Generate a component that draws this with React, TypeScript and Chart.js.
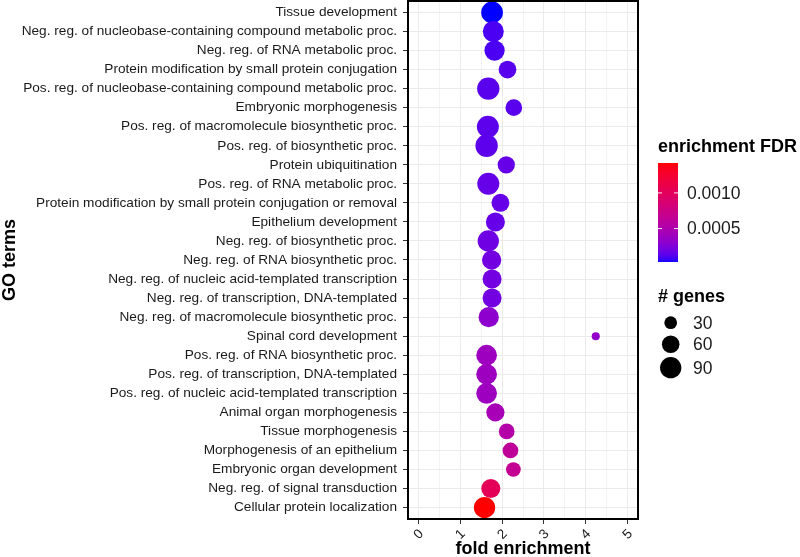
import React, { useEffect, useRef } from 'react';
import { Chart, registerables } from 'chart.js';

Chart.register(...registerables);

// ---------- data ----------
const goTerms: string[] = [
  'Tissue development',
  'Neg. reg. of nucleobase-containing compound metabolic proc.',
  'Neg. reg. of RNA metabolic proc.',
  'Protein modification by small protein conjugation',
  'Pos. reg. of nucleobase-containing compound metabolic proc.',
  'Embryonic morphogenesis',
  'Pos. reg. of macromolecule biosynthetic proc.',
  'Pos. reg. of biosynthetic proc.',
  'Protein ubiquitination',
  'Pos. reg. of RNA metabolic proc.',
  'Protein modification by small protein conjugation or removal',
  'Epithelium development',
  'Neg. reg. of biosynthetic proc.',
  'Neg. reg. of RNA biosynthetic proc.',
  'Neg. reg. of nucleic acid-templated transcription',
  'Neg. reg. of transcription, DNA-templated',
  'Neg. reg. of macromolecule biosynthetic proc.',
  'Spinal cord development',
  'Pos. reg. of RNA biosynthetic proc.',
  'Pos. reg. of transcription, DNA-templated',
  'Pos. reg. of nucleic acid-templated transcription',
  'Animal organ morphogenesis',
  'Tissue morphogenesis',
  'Morphogenesis of an epithelium',
  'Embryonic organ development',
  'Neg. reg. of signal transduction',
  'Cellular protein localization',
];

const foldEnrichment: number[] = [
  1.76, 1.79, 1.82, 2.13, 1.67, 2.28, 1.66, 1.63, 2.10, 1.67,
  1.96, 1.84, 1.67, 1.75, 1.76, 1.76, 1.68, 4.24, 1.63, 1.63,
  1.63, 1.84, 2.11, 2.20, 2.27, 1.73, 1.58,
];

const geneCounts: number[] = [
  94, 87, 81, 61, 99, 54, 96, 100, 58, 96,
  63, 71, 90, 73, 71, 71, 81, 11, 85, 85,
  85, 65, 47, 47, 41, 71, 90,
];

const enrichmentFdr: number[] = [
  0.00003, 0.0001, 0.0001, 0.00013, 0.00013, 0.00013, 0.00014, 0.00014, 0.00016, 0.00016,
  0.00016, 0.00016, 0.00019, 0.0002, 0.0002, 0.0002, 0.00031, 0.00034, 0.0004, 0.0004,
  0.0004, 0.00045, 0.00054, 0.00063, 0.00067, 0.00103, 0.00142,
];

const xTickValues: number[] = [0, 0.5, 1, 1.5, 2, 2.5, 3, 3.5, 4, 4.5, 5];
const colorbarTicks: number[] = [0.0005, 0.001];
const colorbarTickLabels: string[] = ['0.0005', '0.0010'];
const sizeLegendValues: number[] = [30, 60, 90];

// ---------- helpers ----------
const FONT = '"Liberation Sans", Arial, Helvetica, sans-serif';
const fdrMin = Math.min(...enrichmentFdr);
const fdrMax = Math.max(...enrichmentFdr);

function toLin(c: number) {
  c /= 255;
  return c <= 0.04045 ? c / 12.92 : Math.pow((c + 0.055) / 1.055, 2.4);
}
function fromLin(c: number) {
  const v = c <= 0.0031308 ? 12.92 * c : 1.055 * Math.pow(c, 1 / 2.4) - 0.055;
  return Math.round(Math.max(0, Math.min(1, v)) * 255);
}
const WX = 0.95047, WY = 1, WZ = 1.08883;
function rgbToLab(r: number, g: number, b: number) {
  const R = toLin(r), G = toLin(g), B = toLin(b);
  const X = (0.4124 * R + 0.3576 * G + 0.1805 * B) / WX;
  const Y = (0.2126 * R + 0.7152 * G + 0.0722 * B) / WY;
  const Z = (0.0193 * R + 0.1192 * G + 0.9505 * B) / WZ;
  const f = (t: number) => (t > 0.008856 ? Math.cbrt(t) : 7.787 * t + 16 / 116);
  const fx = f(X), fy = f(Y), fz = f(Z);
  return [116 * fy - 16, 500 * (fx - fy), 200 * (fy - fz)];
}
function labToRgb(L: number, a: number, b: number) {
  const fy = (L + 16) / 116;
  const fx = fy + a / 500;
  const fz = fy - b / 200;
  const fi = (t: number) => (t * t * t > 0.008856 ? t * t * t : (t - 16 / 116) / 7.787);
  const X = fi(fx) * WX, Y = fi(fy) * WY, Z = fi(fz) * WZ;
  const R = 3.2406 * X - 1.5372 * Y - 0.4986 * Z;
  const G = -0.9689 * X + 1.8758 * Y + 0.0415 * Z;
  const B = 0.0557 * X - 0.204 * Y + 1.057 * Z;
  return `rgb(${fromLin(R)},${fromLin(G)},${fromLin(B)})`;
}
const labLow = rgbToLab(0, 0, 255);
const labHigh = rgbToLab(255, 0, 0);
function gradientColor(t: number) {
  const u = Math.max(0, Math.min(1, t));
  return labToRgb(
    labLow[0] + (labHigh[0] - labLow[0]) * u,
    labLow[1] + (labHigh[1] - labLow[1]) * u,
    labLow[2] + (labHigh[2] - labLow[2]) * u,
  );
}
function fdrColor(v: number) {
  return gradientColor((v - fdrMin) / (fdrMax - fdrMin));
}
function sizeRadius(n: number) {
  return (1 + 2.14 * Math.sqrt(n)) / 2;
}

// ---------- plugins ----------
const panelBorder = {
  id: 'panelBorder',
  afterDatasetsDraw(chart: any) {
    const { ctx, chartArea: a } = chart;
    ctx.save();
    ctx.strokeStyle = '#000';
    ctx.lineWidth = 2;
    ctx.strokeRect(a.left, a.top, a.right - a.left, a.bottom - a.top);
    ctx.restore();
  },
};

const ggLegend = {
  id: 'ggLegend',
  afterDraw(chart: any) {
    const { ctx, chartArea: a } = chart;
    const lx = a.right + 20;
    ctx.save();
    ctx.textAlign = 'left';
    ctx.textBaseline = 'alphabetic';
    ctx.fillStyle = '#000';
    ctx.font = `bold 18px ${FONT}`;
    ctx.fillText('enrichment FDR', lx, 152);

    // colour bar
    const barTop = 163;
    const barBottom = 262;
    const barW = 20;
    const span = barBottom - barTop;
    for (let i = 0; i < span; i++) {
      const t = 1 - (i + 0.5) / span;
      ctx.fillStyle = gradientColor(t);
      ctx.fillRect(lx, barTop + i, barW, 1);
    }
    ctx.font = `17.5px ${FONT}`;
    ctx.textBaseline = 'middle';
    colorbarTicks.forEach((v, i) => {
      const t = (v - fdrMin) / (fdrMax - fdrMin);
      const y = barBottom - t * span;
      ctx.strokeStyle = 'rgba(255,255,255,0.9)';
      ctx.lineWidth = 1;
      ctx.beginPath();
      ctx.moveTo(lx, y);
      ctx.lineTo(lx + 4, y);
      ctx.moveTo(lx + barW - 4, y);
      ctx.lineTo(lx + barW, y);
      ctx.stroke();
      ctx.fillStyle = '#1a1a1a';
      ctx.fillText(colorbarTickLabels[i], lx + barW + 9, y + 1);
    });

    // size legend
    ctx.textBaseline = 'alphabetic';
    ctx.fillStyle = '#000';
    ctx.font = `bold 18px ${FONT}`;
    ctx.fillText('# genes', lx, 301.5);
    const keyOffsets = [0, 21.6, 45];
    ctx.font = `17.5px ${FONT}`;
    ctx.textBaseline = 'middle';
    sizeLegendValues.forEach((v, i) => {
      const cy = 322.7 + keyOffsets[i];
      ctx.fillStyle = '#000';
      ctx.beginPath();
      ctx.arc(lx + 12.7, cy, sizeRadius(v), 0, Math.PI * 2);
      ctx.fill();
      ctx.fillStyle = '#1a1a1a';
      ctx.fillText(String(v), lx + 35, cy + 1);
    });
    ctx.restore();
  },
};

export default function App() {
  const canvasRef = useRef<HTMLCanvasElement | null>(null);

  useEffect(() => {
    if (!canvasRef.current) return;
    const points = goTerms.map((_, i) => ({
      x: foldEnrichment[i],
      y: i,
      r: sizeRadius(geneCounts[i]),
    }));
    const chart = new Chart(canvasRef.current, {
      type: 'bubble',
      data: {
        datasets: [
          {
            data: points,
            backgroundColor: goTerms.map((_, i) => fdrColor(enrichmentFdr[i])),
            borderWidth: 0,
            hoverBorderWidth: 0,
          },
        ],
      },
      options: {
        responsive: false,
        animation: false,
        events: [],
        layout: { autoPadding: false, padding: { left: 0, right: 162, top: 1, bottom: 0 } },
        plugins: { legend: { display: false }, tooltip: { enabled: false } },
        scales: {
          x: {
            type: 'linear',
            min: -0.25,
            max: 5.25,
            afterBuildTicks: (scale: any) => {
              scale.ticks = xTickValues.map((v) => ({ value: v }));
            },
            afterFit: (scale: any) => {
              scale.height = 38;
              scale.paddingLeft = 0;
              scale.paddingRight = 0;
            },
            grid: {
              color: (c: any) => (c.tick && c.tick.value % 1 === 0 ? '#ebebeb' : '#f3f3f3'),
              tickColor: (c: any) => (c.tick && c.tick.value % 1 === 0 ? '#333333' : 'rgba(0,0,0,0)'),
              tickLength: 5,
              lineWidth: 1,
            },
            border: { display: false },
            ticks: {
              autoSkip: false,
              minRotation: 45,
              maxRotation: 45,
              padding: 2,
              labelOffset: 3,
              color: '#1a1a1a',
              font: { family: FONT, size: 13.5 },
              callback: (v: any) => (Number(v) % 1 === 0 ? String(v) : ''),
            },
            title: {
              display: true,
              text: 'fold enrichment',
              color: '#000',
              font: { family: FONT, size: 18, weight: 'bold', lineHeight: 1 },
              padding: { top: 0, bottom: -1 },
            },
          },
          y: {
            type: 'linear',
            reverse: true,
            min: -0.6,
            max: 26.6,
            afterBuildTicks: (scale: any) => {
              scale.ticks = goTerms.map((_, i) => ({ value: i }));
            },
            afterFit: (scale: any) => {
              scale.width = 408;
              scale.paddingTop = 0;
              scale.paddingBottom = 0;
            },
            grid: {
              color: '#ebebeb',
              tickColor: '#333333',
              tickLength: 5,
              lineWidth: 1,
            },
            border: { display: false },
            ticks: {
              autoSkip: false,
              padding: 6,
              color: '#1a1a1a',
              font: { family: FONT, size: 13.65 },
              callback: (v: any) => goTerms[Number(v)] ?? '',
            },
            title: {
              display: true,
              text: 'GO terms',
              color: '#000',
              font: { family: FONT, size: 18, weight: 'bold', lineHeight: 1 },
              padding: { top: 1, bottom: 0 },
            },
          },
        },
      },
      plugins: [panelBorder, ggLegend],
    } as any);
    return () => chart.destroy();
  }, []);

  return (
    <div style={{ position: 'absolute', left: 0, top: 0, width: 800, height: 557, background: '#fff' }}>
      <canvas ref={canvasRef} width={800} height={557} style={{ display: 'block', width: 800, height: 557 }} />
    </div>
  );
}
